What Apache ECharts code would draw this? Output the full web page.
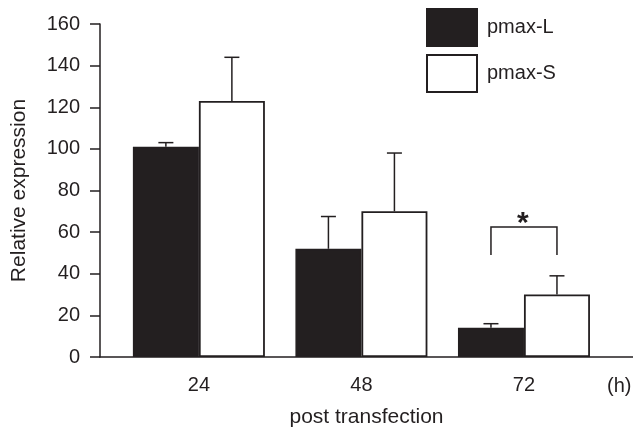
<!DOCTYPE html>
<html>
<head>
<meta charset="utf-8">
<script src="https://cdn.jsdelivr.net/npm/echarts@6/dist/echarts.min.js"></script>
<style>
html,body{margin:0;padding:0;background:#fff;}
#chart{width:633px;height:433px;}
</style>
</head>
<body>
<div id="chart"></div>
<script>
// ---- data ----
const hours = [24, 48, 72];
const seriesNames = ['pmax-L', 'pmax-S'];
const pmaxL = [101, 52, 14];
const pmaxS = [123, 70, 30];
const pmaxLErrTop = [103, 67.5, 16];
const pmaxSErrTop = [144, 98, 39];
const yTickMin = 0, yTickMax = 160, yTickStep = 20;
const sigHour = [72];
const sigBracketTop = [62.5];
const sigBracketEnd = [49];
const sigLabel = ['*'];
const xAxisTitle = 'post transfection';
const yAxisTitle = 'Relative expression';
const xUnit = '(h)';

// ---- style ----
const INK = '#231f20';
const FONT = 'Liberation Sans';
const FS = 20;
const FS_NAME = 21;
const BAR_W = 66;

const chart = echarts.init(document.getElementById('chart'));

function errRender(sign) {
  return function (params, api) {
    const x = api.value(0);
    const top = api.coord([x, api.value(1)]);
    const end = api.coord([x, api.value(2)]);
    const cx = top[0] + sign * BAR_W / 2;
    return {
      type: 'group',
      children: [
        { type: 'line', shape: { x1: cx, y1: top[1], x2: cx, y2: end[1] }, style: { stroke: INK, lineWidth: 1.5 } },
        { type: 'line', shape: { x1: cx - 7.5, y1: end[1], x2: cx + 7.5, y2: end[1] }, style: { stroke: INK, lineWidth: 1.5 } }
      ]
    };
  };
}

const option = {
  animation: false,
  backgroundColor: '#fff',
  textStyle: { fontFamily: FONT, color: INK },
  grid: { left: 100, right: 0, top: 24, bottom: 72, containLabel: false },
  legend: {
    data: seriesNames,
    orient: 'vertical',
    left: 426,
    top: 8,
    padding: 0,
    itemWidth: 50,
    itemHeight: 37,
    itemGap: 7,
    icon: 'rect',
    textStyle: { fontSize: FS, color: INK, fontFamily: FONT, padding: [0, 0, 0, 5] }
  },
  xAxis: {
    type: 'value',
    min: 9.4,
    max: 88.1,
    splitLine: { show: false },
    axisLine: { show: true, onZero: false, lineStyle: { color: INK, width: 1.5 } },
    axisTick: { show: false },
    axisLabel: { customValues: hours, fontSize: FS, color: INK, fontFamily: FONT, margin: 18 },
    name: xAxisTitle,
    nameLocation: 'middle',
    nameGap: 50,
    nameTextStyle: { fontSize: FS_NAME, color: INK, fontFamily: FONT }
  },
  yAxis: {
    type: 'value',
    min: yTickMin,
    max: yTickMax,
    interval: yTickStep,
    splitLine: { show: false },
    axisLine: { show: true, lineStyle: { color: INK, width: 1.5 } },
    axisTick: { show: true, length: 10, lineStyle: { color: INK, width: 1.5 } },
    axisLabel: { fontSize: FS, color: INK, fontFamily: FONT, margin: 20 },
    name: yAxisTitle,
    nameLocation: 'middle',
    nameGap: 70,
    nameTextStyle: { fontSize: FS_NAME, color: INK, fontFamily: FONT }
  },
  graphic: [{
    type: 'text',
    left: 607,
    top: 376,
    style: { text: xUnit, fontSize: FS, fill: INK, fontFamily: FONT }
  }],
  series: [
    {
      name: seriesNames[0],
      type: 'bar',
      barWidth: BAR_W,
      barGap: '0%',
      data: hours.map((h, i) => [h, pmaxL[i]]),
      itemStyle: { color: INK, borderColor: INK, borderWidth: 1.5 }
    },
    {
      name: seriesNames[1],
      type: 'bar',
      barWidth: BAR_W,
      barGap: '0%',
      data: hours.map((h, i) => [h, pmaxS[i]]),
      itemStyle: { color: '#fff', borderColor: INK, borderWidth: 1.8 }
    },
    {
      type: 'custom',
      renderItem: errRender(-1),
      data: hours.map((h, i) => [h, pmaxL[i], pmaxLErrTop[i]]),
      z: 3
    },
    {
      type: 'custom',
      renderItem: errRender(1),
      data: hours.map((h, i) => [h, pmaxS[i], pmaxSErrTop[i]]),
      z: 3
    },
    {
      type: 'custom',
      data: sigHour.map((h, i) => [h, sigBracketTop[i], sigBracketEnd[i]]),
      z: 3,
      renderItem: function (params, api) {
        const x = api.value(0);
        const topP = api.coord([x, api.value(1)]);
        const endP = api.coord([x, api.value(2)]);
        const xl = topP[0] - BAR_W / 2, xr = topP[0] + BAR_W / 2;
        return {
          type: 'group',
          children: [
            { type: 'polyline', shape: { points: [[xl, endP[1]], [xl, topP[1]], [xr, topP[1]], [xr, endP[1]]] }, style: { stroke: INK, lineWidth: 1.5, fill: null } },
            { type: 'text', style: { text: sigLabel[params.dataIndex], x: topP[0] - 1, y: topP[1] + 12, fontSize: 30, fontWeight: 'bold', fontFamily: FONT, fill: INK, align: 'center', verticalAlign: 'bottom' } }
          ]
        };
      }
    }
  ]
};
chart.setOption(option);
</script>
</body>
</html>
